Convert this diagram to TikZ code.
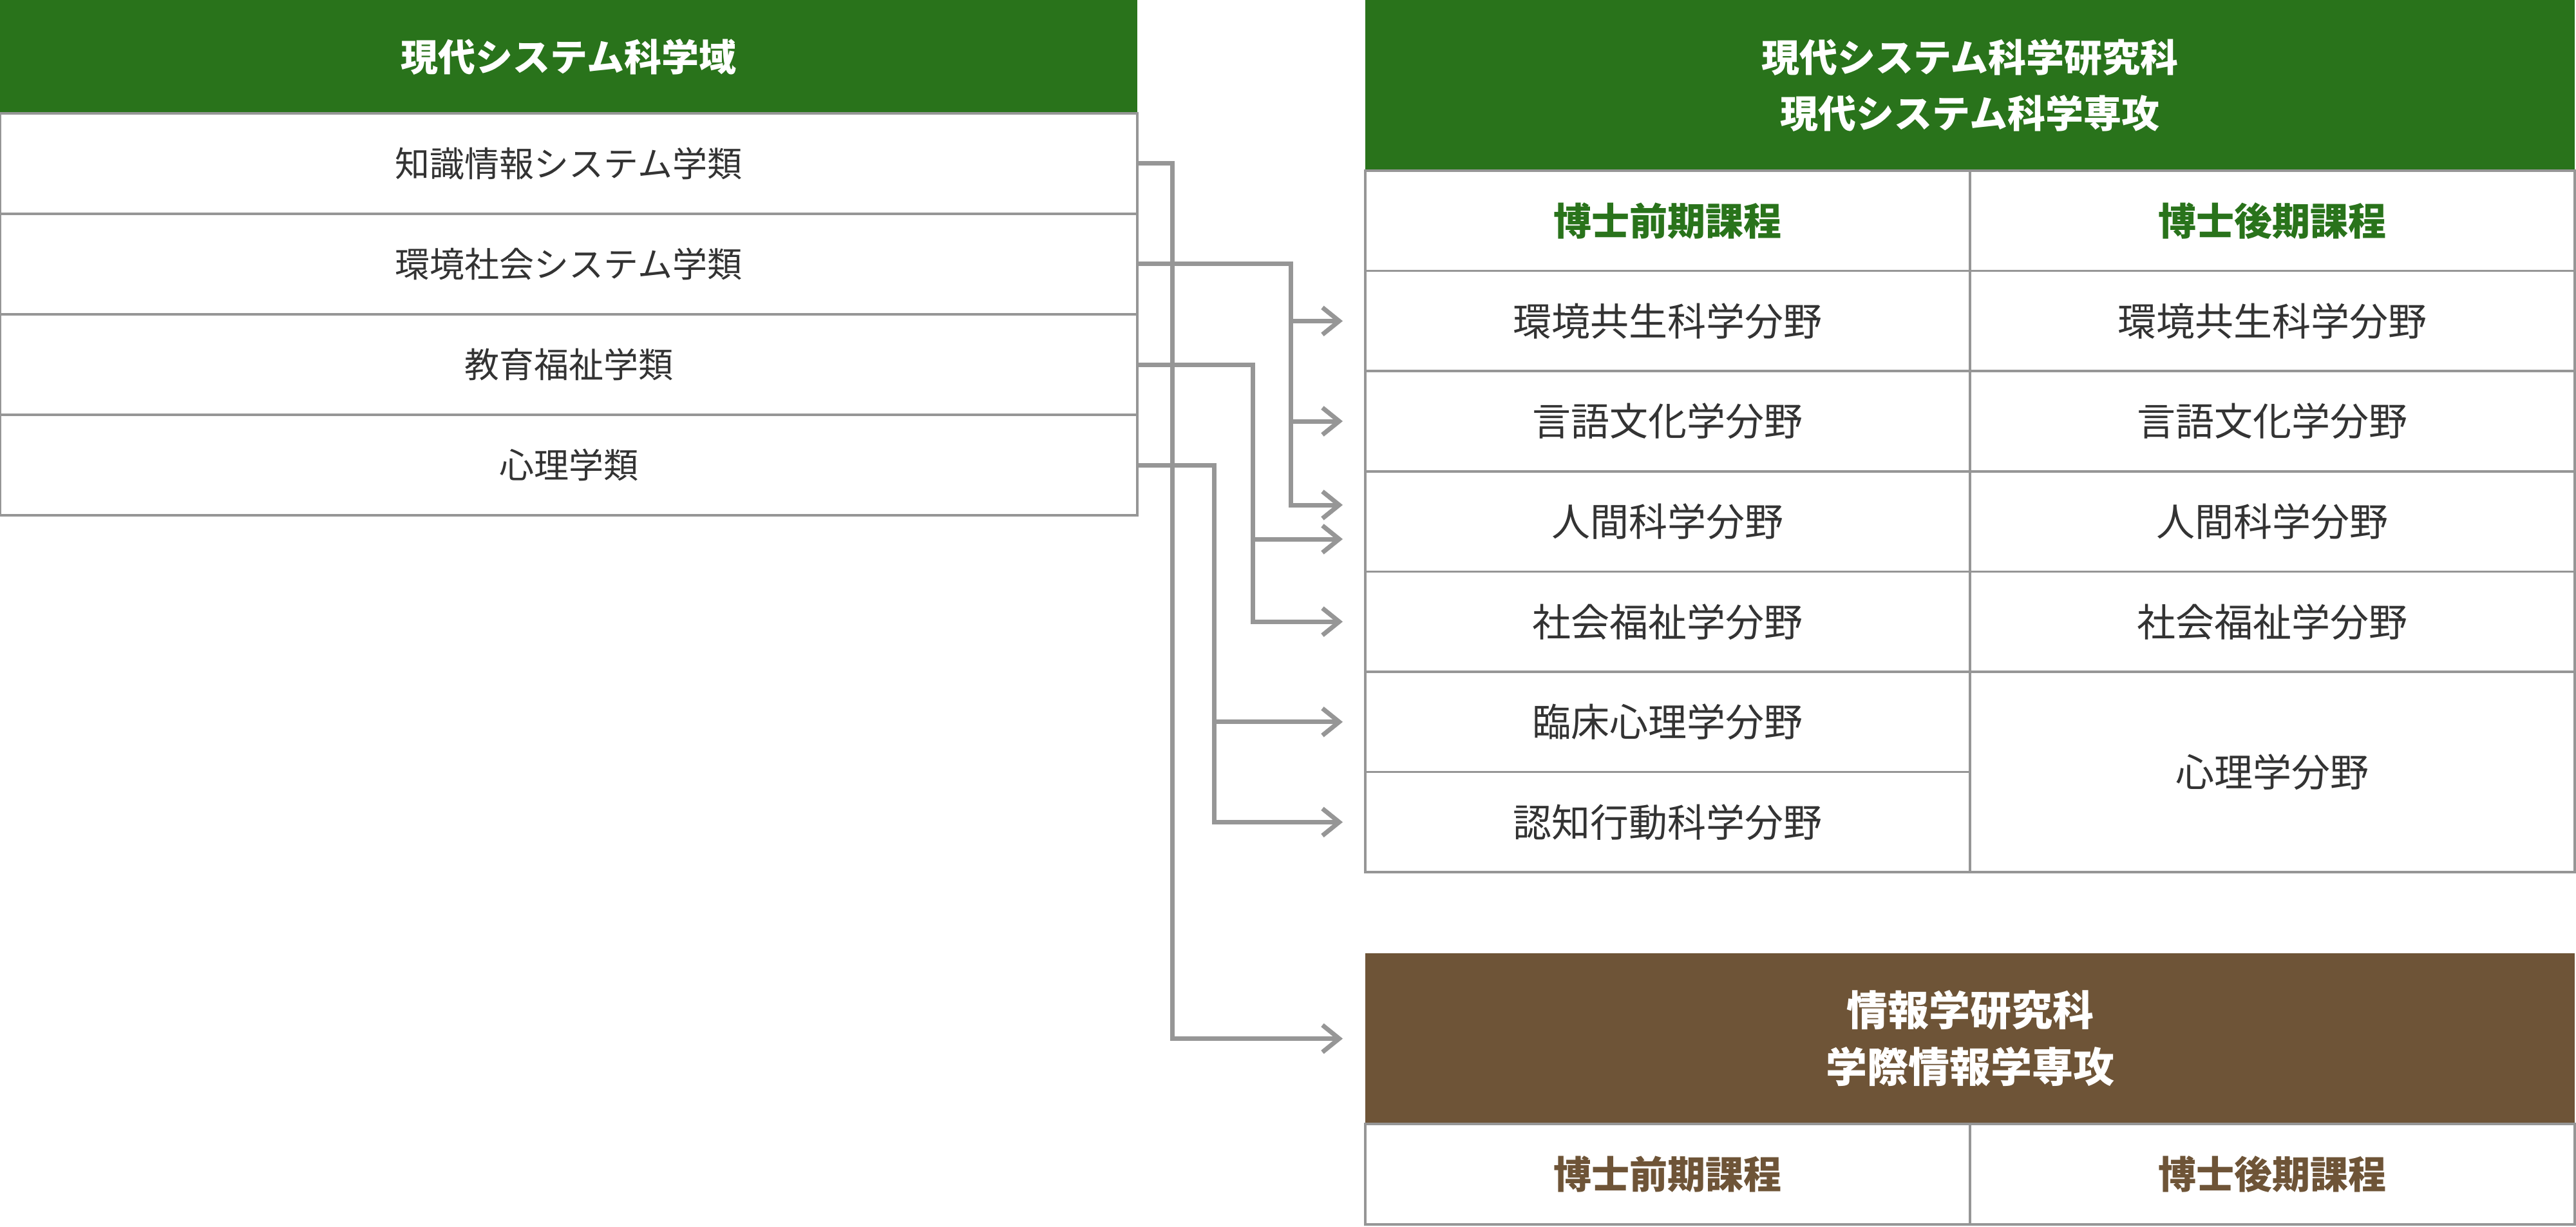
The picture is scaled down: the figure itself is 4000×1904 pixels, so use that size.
\documentclass[tikz,border=0pt]{standalone}
\usepackage{fontspec}
\setmainfont{Noto Sans CJK JP}
\usetikzlibrary{arrows.meta}
\definecolor{hgreen}{HTML}{29731B}
\definecolor{hbrown}{HTML}{6E5437}
\definecolor{lgray}{HTML}{969696}
\definecolor{txt}{HTML}{333333}
\tikzset{
  cellbox/.style={draw=lgray, line width=0.9pt, fill=white, inner sep=0pt, outer sep=0pt,
    text=txt, align=center, minimum width=234.75pt, minimum height=38.9pt,
    font=\fontsize{15pt}{18pt}\selectfont},
  leftcell/.style={cellbox, minimum width=441.5pt, minimum height=39pt,
    font=\fontsize{13.5pt}{16pt}\selectfont},
  greenhead/.style={fill=hgreen, draw=none, inner sep=0pt, outer sep=0pt, text=white, align=center,
    font=\fontsize{14.75pt}{21.75pt}\selectfont\bfseries},
  brownhead/.style={greenhead, fill=hbrown, font=\fontsize{16pt}{22pt}\selectfont\bfseries},
  gsub/.style={cellbox, text=hgreen, font=\fontsize{14.75pt}{18pt}\selectfont\bfseries},
  bsub/.style={cellbox, text=hbrown, font=\fontsize{14.75pt}{18pt}\selectfont\bfseries},
  conn/.style={draw=lgray, line width=1.75pt},
  arr/.style={-{Straight Barb[length=6.5pt,width=10.5pt]}}
}
\begin{document}
\begin{tikzpicture}[x=0.25pt,y=-0.25pt]
\useasboundingbox (0,0) rectangle (4000,1904);
% left block
\node[greenhead, minimum width=441.5pt, minimum height=44pt, font=\fontsize{14.5pt}{18pt}\selectfont\bfseries] (lhead) at (883,88) {現代システム科学域};
\node[leftcell] (l1) at (883,254) {知識情報システム学類};
\node[leftcell] (l2) at (883,410) {環境社会システム学類};
\node[leftcell] (l3) at (883,566) {教育福祉学類};
\node[leftcell] (l4) at (883,722) {心理学類};
% right upper block
\node[greenhead, minimum width=469.5pt, minimum height=66.25pt] (rhead) at (3059,132.5) {現代システム科学研究科\\現代システム科学専攻};
\node[gsub] (rm0) at (2589.5,342.8) {博士前期課程};
\node[gsub] (rd0) at (3528.5,342.8) {博士後期課程};
\node[cellbox] (rm1) at (2589.5,498.4) {環境共生科学分野};
\node[cellbox] (rd1) at (3528.5,498.4) {環境共生科学分野};
\node[cellbox] (rm2) at (2589.5,654.0) {言語文化学分野};
\node[cellbox] (rd2) at (3528.5,654.0) {言語文化学分野};
\node[cellbox] (rm3) at (2589.5,809.6) {人間科学分野};
\node[cellbox] (rd3) at (3528.5,809.6) {人間科学分野};
\node[cellbox] (rm4) at (2589.5,965.2) {社会福祉学分野};
\node[cellbox] (rd4) at (3528.5,965.2) {社会福祉学分野};
\node[cellbox] (rm5) at (2589.5,1120.8) {臨床心理学分野};
\node[cellbox] (rm6) at (2589.5,1276.4) {認知行動科学分野};
\node[cellbox, minimum height=77.8pt] (rd5) at (3528.5,1198.6) {心理学分野};
% right lower block
\node[brownhead, minimum width=469.5pt, minimum height=66.25pt] (ihead) at (3059,1612.5) {情報学研究科\\学際情報学専攻};
\node[bsub, minimum height=39pt] (im) at (2589.5,1823) {博士前期課程};
\node[bsub, minimum height=39pt] (id) at (3528.5,1823) {博士後期課程};
% arrow tips
\coordinate (t1) at ([xshift=-8.75pt]rm1.west);
\coordinate (t2) at ([xshift=-8.75pt]rm2.west);
\coordinate (t3a) at ([xshift=-8.75pt,yshift=6.4pt]rm3.west);
\coordinate (t3b) at ([xshift=-8.75pt,yshift=-6.85pt]rm3.west);
\coordinate (t4) at ([xshift=-8.75pt]rm4.west);
\coordinate (t5) at ([xshift=-8.75pt]rm5.west);
\coordinate (t6) at ([xshift=-8.75pt]rm6.west);
\coordinate (ti) at ([xshift=-8.75pt]ihead.west);
% connectors
\draw[conn,arr] (l1.east) -- ++(54,0) |- (ti);
\draw[conn,arr] (l4.east) -- ++(119,0) coordinate (b4) |- (t6);
\draw[conn,arr] (b4 |- t5) -- (t5);
\draw[conn,arr] (l3.east) -- ++(179,0) coordinate (b3) |- (t4);
\draw[conn,arr] (b3 |- t3b) -- (t3b);
\draw[conn,arr] (l2.east) -- ++(238,0) coordinate (b2) |- (t3a);
\draw[conn,arr] (b2 |- t1) -- (t1);
\draw[conn,arr] (b2 |- t2) -- (t2);
\end{tikzpicture}
\end{document}
